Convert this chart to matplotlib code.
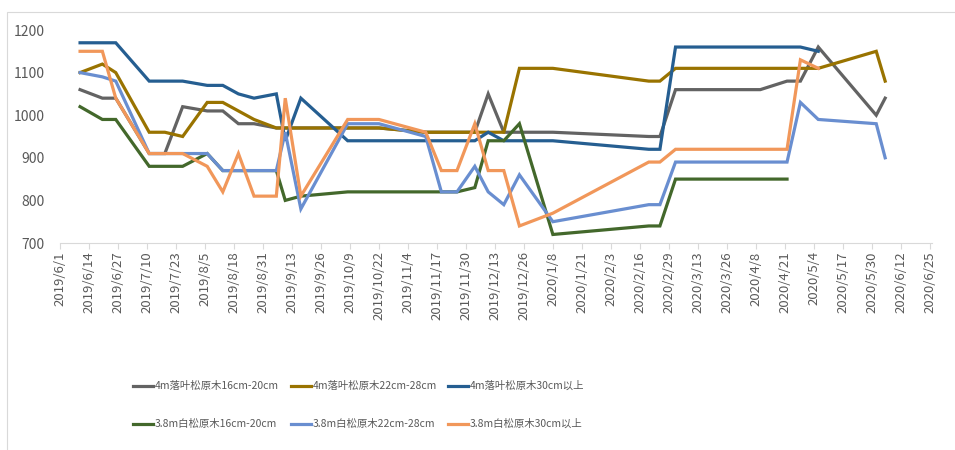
import numpy as np
import pandas as pd
import matplotlib
matplotlib.use("Agg")
from matplotlib import pyplot as plt
from matplotlib.patches import Rectangle
from matplotlib.lines import Line2D

plt.rcParams['font.family'] = ['Noto Sans CJK SC', 'DejaVu Sans']

###
dates = ["2019-06-10", "2019-06-20", "2019-06-26", "2019-07-11", "2019-07-18", "2019-07-26",
         "2019-08-06", "2019-08-13", "2019-08-20", "2019-08-27", "2019-09-06", "2019-09-10",
         "2019-09-17", "2019-10-08", "2019-10-22", "2019-11-12", "2019-11-19", "2019-11-26",
         "2019-12-04", "2019-12-10", "2019-12-17", "2019-12-24", "2020-01-08", "2020-02-20",
         "2020-02-25", "2020-03-03", "2020-04-10", "2020-04-22", "2020-04-28", "2020-05-06",
         "2020-06-01", "2020-06-05"]

larch_16_20 = [1060, 1040, 1040, 910, 910, 1020, 1010, 1010, 980, 980, 970, 970,
               970, 970, 970, 960, 960, 960, 960, 1050, 960, 960, 960, 950,
               950, 1060, 1060, 1080, 1080, 1160, 1000, 1040]
larch_22_28 = [1100, 1120, 1100, 960, 960, 950, 1030, 1030, 1010, 990, 970, 970,
               970, 970, 970, 960, 960, 960, 960, 960, 960, 1110, 1110, 1080,
               1080, 1110, 1110, 1110, 1110, 1110, 1150, 1080]
larch_30 = [1170, 1170, 1170, 1080, 1080, 1080, 1070, 1070, 1050, 1040, 1050, 940,
            1040, 940, 940, 940, 940, 940, 940, 960, 940, 940, 940, 920,
            920, 1160, 1160, 1160, 1160, 1150, None, None]
pine_16_20 = [1020, 990, 990, 880, 880, 880, 910, 870, 870, 870, 870, 800,
              810, 820, 820, 820, 820, 820, 830, 940, 940, 980, 720, 740,
              740, 850, 850, 850, None, None, None, None]
pine_22_28 = [1100, 1090, 1080, 910, 910, 910, 910, 870, 870, 870, 870, 960,
              780, 980, 980, 950, 820, 820, 880, 820, 790, 860, 750, 790,
              790, 890, 890, 890, 1030, 990, 980, 900]
pine_30 = [1150, 1150, 1040, 910, 910, 910, 880, 820, 910, 810, 810, 1040,
           810, 990, 990, 960, 870, 870, 980, 870, 870, 740, 770, 890,
           890, 920, 920, 920, 1130, 1110, None, None]

names = ["4m落叶松原木16cm-20cm", "4m落叶松原木22cm-28cm", "4m落叶松原木30cm以上",
         "3.8m白松原木16cm-20cm", "3.8m白松原木22cm-28cm", "3.8m白松原木30cm以上"]
series = [larch_16_20, larch_22_28, larch_30, pine_16_20, pine_22_28, pine_30]
colors = ["#636363", "#997300", "#255E91", "#43682B", "#698ED0", "#F1975A"]

df = pd.DataFrame({n: pd.Series(s, dtype="float") for n, s in zip(names, series)})
df.index = pd.to_datetime(dates)

###
W, H = 955, 450
fig = plt.figure(figsize=(W/100, H/100), dpi=100)
ax = fig.add_axes([60/W, 1-243/H, (932-60)/W, 213/H])

for n, c in zip(names, colors):
    s = df[n].dropna()
    ax.plot(s.index, s.values, color=c, lw=2.3, solid_joinstyle='miter')

ticks = pd.date_range("2019-06-01", "2020-06-25", freq="13D")
ax.set_xticks(ticks)
ax.set_xticklabels(["{}/{}/{}".format(t.year, t.month, t.day) for t in ticks],
                   rotation=90, fontsize=9.5, color="#595959")
ax.set_xlim(ticks[0], ticks[-1] + pd.Timedelta(days=1))
ax.set_ylim(700, 1200)
ax.set_yticks([700, 800, 900, 1000, 1100, 1200])
ax.tick_params(axis='y', length=0, pad=11, labelsize=10, labelcolor="#595959")
ax.tick_params(axis='x', length=4, color="#D9D9D9", pad=2)
for sp in ["top", "right", "left"]:
    ax.spines[sp].set_visible(False)
ax.spines["bottom"].set_color("#D9D9D9")

# legend drawn by hand: 3 columns x 2 rows, evenly spaced like the excel chart
col_x = [133, 291, 448]
row_y = [386, 424]
for i, (n, c) in enumerate(zip(names, colors)):
    x0 = col_x[i % 3]
    y0 = 1 - row_y[i // 3] / H
    fig.add_artist(Line2D([x0/W, (x0+20)/W], [y0, y0], transform=fig.transFigure,
                          color=c, lw=2.3))
    fig.text((x0+22)/W, y0, n, fontsize=7.5, color="#595959", va="center", ha="left")

# outer chart border
fig.patches.append(Rectangle((7/W, -0.1), 1.0, 1.1-12/H, transform=fig.transFigure,
                             fill=False, edgecolor="#D9D9D9", lw=0.8))

plt.savefig("out.png", dpi=100)
